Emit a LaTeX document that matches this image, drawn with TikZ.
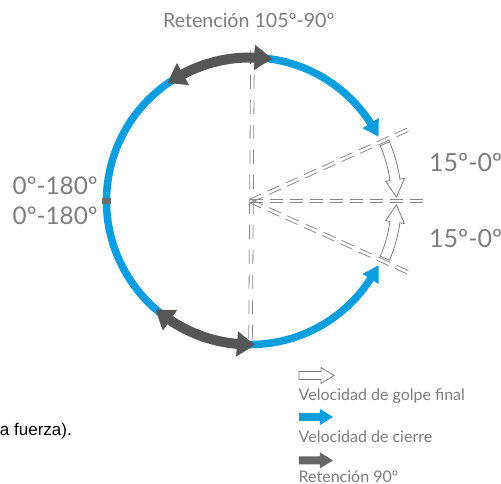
\documentclass[tikz,border=0pt]{standalone}
\usepackage{fontspec}
\setmainfont{Lato}
\newfontfamily\arialfont{Liberation Sans}
\usetikzlibrary{arrows.meta,bending}
\definecolor{cblue}{HTML}{0A9DDF}
\definecolor{cgray}{HTML}{565656}
\definecolor{tgray}{HTML}{7D7D7D}
\definecolor{lgray}{HTML}{8A8A8A}
\begin{document}
\begin{tikzpicture}[x=1pt,y=1pt,
  gline/.style={draw=lgray, line width=0.8pt},
  bluearc/.style={cblue, line width=7.5pt, {Triangle[length=16pt,width=18pt,bend]}-{Triangle[length=16pt,width=18pt,bend]}},
  grayarc/.style={cgray, line width=10pt, {Triangle[length=18pt,width=24pt,bend]}-{Triangle[length=18pt,width=24pt,bend]}},
  hollow/.style={draw=tgray, fill=white, line width=0.8pt, line join=miter},
  lbl/.style={text=tgray, inner sep=0pt, anchor=base west}]
\useasboundingbox (-250,-283) rectangle (251,201);
% dashed guide lines (pairs of thin dashes)
\foreach \s in {-1.8,1.8}{
  \foreach \t [evaluate=\t as \e using {min(\t+13,177)}] in {0,20,...,160}{
    \draw[gline, shift={(114.3:\s)}] (24.3:\t) -- (24.3:\e);
    \draw[gline, shift={(-114.3:\s)}] (-24.3:\t) -- (-24.3:\e);
    \draw[gline, shift={(0,\s)}] (\t,0) -- (\e,0);
  }
  \foreach \t [evaluate=\t as \e using {min(\t+14,293)}, evaluate=\t as \xa using {2.5-\t*0.00683}, evaluate=\t as \xb using {2.5-min(\t+14,293)*0.00683}] in {0,25,...,275}{
    \draw[gline] (\xa+\s,151-\t) -- (\xb+\s,151-\e);
  }
}
% blue ring
\draw[bluearc] (26.5:143.5) arc[start angle=26.5, end angle=333.5, radius=143.5];
\fill[cgray!85] (-147.5,-2.8) rectangle (-138.5,2.8);
% gray retention arrows
\draw[grayarc] (125:143.5) arc[start angle=125, end angle=81, radius=143.5];
\draw[grayarc] (229:143.5) arc[start angle=229, end angle=272, radius=143.5];
% hollow final-stroke arrows
\draw[hollow] (23:141.5) arc[start angle=23, end angle=8.3, radius=141.5] -- (8.3:137) -- (1.5:146.5) -- (8.3:156) -- (8.3:151.5) arc[start angle=8.3, end angle=23, radius=151.5] -- cycle;
\draw[hollow] (-23:141.5) arc[start angle=-23, end angle=-8.3, radius=141.5] -- (-8.3:137) -- (-1.5:146.5) -- (-8.3:156) -- (-8.3:151.5) arc[start angle=-8.3, end angle=-23, radius=151.5] -- cycle;
% labels
\node[lbl, font=\fontsize{19.6}{19.6}\selectfont] (title) at (-87,173) {Retención 105º-90º};
\node[lbl, font=\fontsize{24.3}{24.3}\selectfont] (l1) at (-237.5,6) {0º-180º};
\node[lbl, font=\fontsize{24.3}{24.3}\selectfont] (l2) at (-237.5,-24) {0º-180º};
\node[lbl, font=\fontsize{25}{25}\selectfont] (r1) at (179,29.5) {15º-0º};
\node[lbl, font=\fontsize{25}{25}\selectfont] (r2) at (179,-47) {15º-0º};
\node[inner sep=0pt, anchor=base east, font=\arialfont\fontsize{17}{17}\selectfont] (af) at (-178,-235) {a fuerza).};
% legend
\draw[hollow] (49,-170.5) -- (71,-170.5) -- (71,-166.5) -- (84,-174.5) -- (71,-182.5) -- (71,-178.5) -- (49,-178.5) -- cycle;
\node[lbl, font=\fontsize{16}{16}\selectfont] (lg1) at (48.5,-200) {Velocidad de golpe final};
\fill[cblue] (49,-212) -- (70,-212) -- (70,-208) -- (83,-216) -- (70,-224) -- (70,-220) -- (49,-220) -- cycle;
\node[lbl, font=\fontsize{16}{16}\selectfont] (lg2) at (48.5,-241.7) {Velocidad de cierre};
\fill[cgray!90] (49,-255.5) -- (70,-255.5) -- (70,-251.5) -- (83,-259.5) -- (70,-267.5) -- (70,-263.5) -- (49,-263.5) -- cycle;
\node[lbl, font=\fontsize{16}{16}\selectfont] (lg3) at (48.5,-281) {Retención 90º};
\end{tikzpicture}
\end{document}
